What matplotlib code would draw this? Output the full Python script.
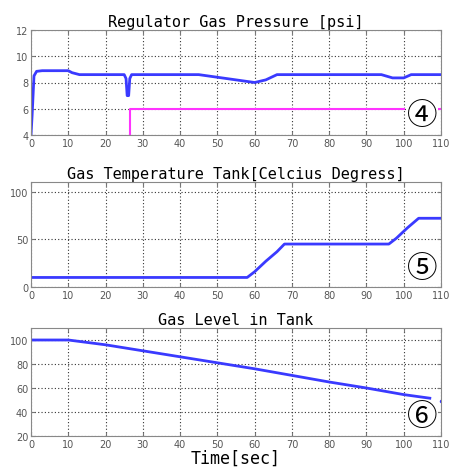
import matplotlib
matplotlib.use("Agg")
import matplotlib.pyplot as plt

# Regulator gas pressure
p_t = [0, 0.3, 0.8, 1.5, 3, 10, 11, 13, 25, 25.5, 25.8, 26.2, 26.5, 27, 45, 50, 55, 60, 63, 66, 94, 97, 100, 102, 110]
p_v = [4, 5.5, 8.5, 8.85, 8.9, 8.9, 8.75, 8.6, 8.6, 8.3, 7.0, 7.0, 8.3, 8.6, 8.6, 8.4, 8.2, 8.0, 8.2, 8.6, 8.6, 8.35, 8.35, 8.6, 8.6]
s_t = [26.5, 26.5, 100]
s_v = [4, 6, 6]
s2_t = [109.5, 110]
s2_v = [6, 6]

# Gas temperature
T_t = [0, 58, 60, 63, 66, 68, 96, 98, 101, 104, 110]
T_v = [10, 10, 16, 27, 37, 45, 45, 51, 62, 72, 72]

# Gas level
L_t = [0, 10, 20, 30, 40, 50, 60, 70, 80, 90, 100, 107]
L_v = [100, 100, 96, 91, 86, 81, 76, 70.5, 65, 60, 54.5, 51.5]
L2_t = [110]
L2_v = [49.5]

titles = ["Regulator Gas Pressure [psi]", "Gas Temperature Tank[Celcius Degress]", "Gas Level in Tank"]
xticks = list(range(0, 111, 10))

fig = plt.figure(figsize=(4.49, 4.77), dpi=100)
W, H = 449, 477
def ax_at(l, t, r, b):
    return fig.add_axes([l / W, 1 - b / H, (r - l) / W, (b - t) / H])

ax1 = ax_at(31, 31, 441, 136)
ax2 = ax_at(31, 183, 441, 288)
ax3 = ax_at(31, 329, 441, 437)

tfont = dict(family="DejaVu Sans Mono", fontsize=11)
blue = "#3a3aff"
ax1.plot(p_t, p_v, color=blue, lw=2)
ax1.plot(s_t, s_v, color="#ff33ff", lw=1.5)
ax1.plot(s2_t, s2_v, color="#ff33ff", lw=1.5)
ax1.set_ylim(4, 12)
ax1.set_yticks([4, 6, 8, 10, 12])

ax2.plot(T_t, T_v, color=blue, lw=2)
ax2.set_ylim(0, 110)
ax2.set_yticks([0, 50, 100])

ax3.plot(L_t, L_v, color=blue, lw=2)
ax3.plot(L2_t, L2_v, color=blue, marker="o", ms=1.5, lw=0)
ax3.set_ylim(20, 110)
ax3.set_yticks([20, 40, 60, 80, 100])

labels = ["④", "⑤", "⑥"]
ypos = [5.45, 19, 36.5]
for ax, title, lab, yp in zip([ax1, ax2, ax3], titles, labels, ypos):
    ax.set_xlim(0, 110)
    ax.set_xticks(xticks)
    ax.set_title(title, pad=3, **tfont)
    ax.grid(True, color="#333333", linestyle=(0, (1, 2)), lw=0.8)
    ax.tick_params(direction="in", labelsize=7, labelcolor="#555555", color="#777777",
                   length=3, top=True, right=True, pad=2)
    for sp in ax.spines.values():
        sp.set_color("#888888")
        sp.set_linewidth(0.8)
    ax.text(105, yp, lab, ha="center", va="center", fontsize=22,
            family=["Noto Sans CJK JP", "DejaVu Sans"],
            bbox=dict(facecolor="white", edgecolor="none", pad=0))

ax3.set_xlabel("Time[sec]", labelpad=0, **dict(family="DejaVu Sans Mono", fontsize=12))

fig.savefig("out.png", dpi=100)
